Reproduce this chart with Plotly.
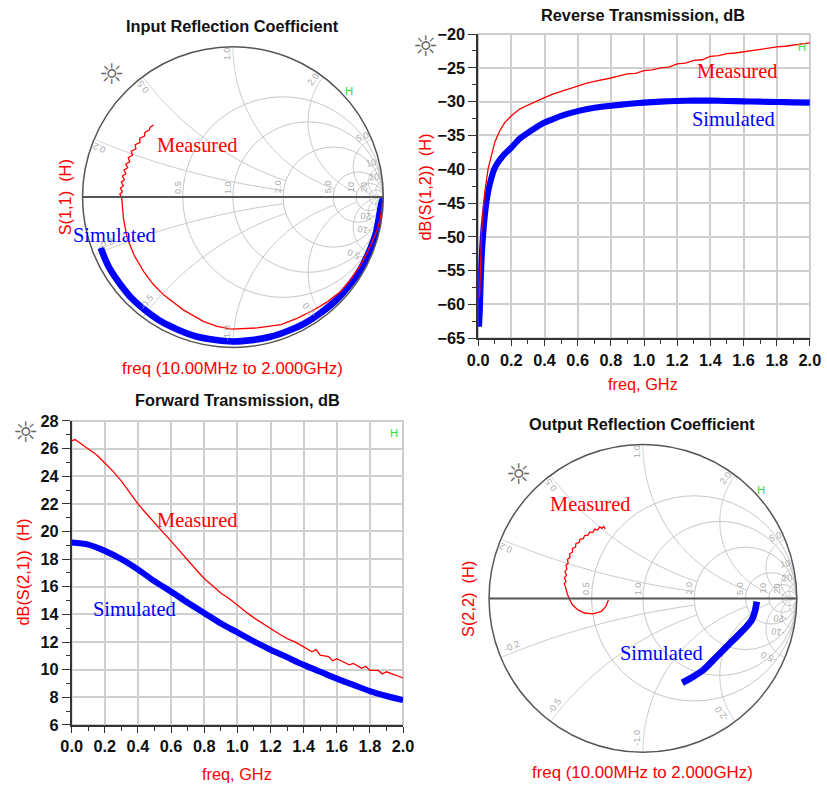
import numpy as np
import plotly.graph_objects as go

# Figure size; the page shows it inside the browser's default 8 px body margin and the
# captured page is 843x804, so layout positions below are given in final-image pixels
# and mapped onto the figure with the scale/offset below.
W, H = 827, 788
OFF = 8
SX = (W + 2 * OFF) / W
SY = (H + 2 * OFF) / H
K = (SX + SY) / 2

# ---------------- data ----------------
# Reverse transmission dB(S(1,2)) vs frequency (GHz)
rev_meas_f = [0.008, 0.012, 0.016, 0.02, 0.03, 0.04, 0.06, 0.08, 0.10, 0.13, 0.16, 0.20, 0.25, 0.30,
              0.35, 0.40, 0.45, 0.50, 0.55, 0.60, 0.65, 0.70, 0.75, 0.80, 0.85, 0.90, 0.95, 1.00,
              1.05, 1.10, 1.15, 1.20, 1.25, 1.30, 1.35, 1.40, 1.45, 1.50, 1.55, 1.60, 1.65, 1.70,
              1.75, 1.80, 1.85, 1.90, 1.95, 2.00]
rev_meas_db = [-59.0, -55.0, -51.5, -49.5, -45.8, -43.3, -39.9, -37.7, -36.0, -34.3, -33.1, -32.1, -31.1, -30.5,
               -29.9, -29.4, -28.9, -28.5, -28.0, -27.7, -27.3, -27.0, -26.8, -26.5, -26.2, -25.9, -25.8, -25.4,
               -25.3, -25.0, -24.9, -24.4, -24.3, -23.9, -23.8, -23.3, -23.2, -22.9, -22.8, -22.6, -22.5, -22.3,
               -22.1, -21.9, -21.8, -21.6, -21.5, -21.3]
rev_sim_f = [0.005, 0.01, 0.015, 0.02, 0.03, 0.04, 0.05, 0.07, 0.10, 0.15, 0.20, 0.25, 0.30, 0.35, 0.40,
             0.45, 0.50, 0.60, 0.70, 0.80, 0.90, 1.00, 1.10, 1.20, 1.30, 1.40, 1.50, 1.60, 1.70,
             1.80, 1.90, 2.00]
rev_sim_db = [-63.3, -60.5, -56.5, -53.5, -49.5, -46.8, -44.8, -42.2, -39.8, -38.0, -36.8, -35.5, -34.6, -33.8, -33.1,
              -32.6, -32.1, -31.4, -30.9, -30.6, -30.35, -30.15, -30.0, -29.9, -29.85, -29.85, -29.9, -29.95, -30.0,
              -30.05, -30.1, -30.15]

# Forward transmission dB(S(2,1)) vs frequency (GHz)
fwd_meas_f = [0.00, 0.02, 0.05, 0.10, 0.15, 0.20, 0.25, 0.30, 0.35, 0.40, 0.45, 0.50, 0.55, 0.60, 0.65,
              0.70, 0.75, 0.80, 0.85, 0.90, 0.95, 1.00, 1.05, 1.10, 1.15, 1.20, 1.25, 1.30, 1.35,
              1.40, 1.45, 1.475, 1.50, 1.55, 1.575, 1.60, 1.65, 1.675, 1.70, 1.75, 1.775, 1.80,
              1.85, 1.875, 1.90, 1.95, 2.00]
fwd_meas_db = [26.55, 26.65, 26.4, 26.0, 25.55, 24.95, 24.35, 23.65, 22.85, 22.0, 21.3, 20.6, 19.95, 19.3, 18.6,
               17.9, 17.25, 16.6, 16.1, 15.55, 15.15, 14.65, 14.2, 13.75, 13.35, 12.95, 12.6, 12.25, 12.0,
               11.65, 11.3, 11.45, 11.05, 10.95, 10.65, 10.8, 10.5, 10.35, 10.45, 10.1, 10.25, 9.95,
               9.95, 9.7, 9.85, 9.65, 9.4]
fwd_sim_f = [0.0, 0.1, 0.2, 0.3, 0.4, 0.5, 0.6, 0.7, 0.8, 0.9, 1.0, 1.1, 1.2, 1.3, 1.4, 1.5, 1.6,
             1.7, 1.8, 1.9, 2.0]
fwd_sim_db = [19.2, 19.05, 18.6, 18.0, 17.25, 16.4, 15.65, 14.85, 14.1, 13.35, 12.7, 12.05, 11.45, 10.9,
              10.35, 9.85, 9.35, 8.9, 8.45, 8.1, 7.8]

# Input reflection S(1,1), reflection coefficient (real, imag), 10 MHz -> 2 GHz
s11_meas_re = [0.993, 0.991, 0.986, 0.980, 0.962, 0.936, 0.895, 0.848, 0.785, 0.716, 0.630, 0.540, 0.430,
               0.320, 0.160, -0.010, -0.105, -0.197, -0.330, -0.461, -0.530, -0.593, -0.655, -0.703,
               -0.728, -0.740, -0.752, -0.735, -0.748, -0.728, -0.742, -0.722, -0.735, -0.712, -0.724,
               -0.700, -0.712, -0.686, -0.696, -0.668, -0.676, -0.645, -0.650, -0.618, -0.620, -0.588,
               -0.585, -0.557, -0.550, -0.527]
s11_meas_im = [-0.040, -0.067, -0.105, -0.144, -0.210, -0.276, -0.365, -0.452, -0.545, -0.628, -0.695, -0.749,
               -0.805, -0.848, -0.870, -0.878, -0.860, -0.826, -0.750, -0.650, -0.580, -0.496, -0.390,
               -0.274, -0.140, 0.000, 0.020, 0.035, 0.060, 0.075, 0.100, 0.115, 0.140, 0.155, 0.180,
               0.195, 0.220, 0.235, 0.262, 0.278, 0.305, 0.320, 0.348, 0.362, 0.390, 0.405, 0.430,
               0.445, 0.465, 0.479]
s11_sim_re = [0.999, 0.989, 0.947, 0.844, 0.686, 0.483, 0.249, 0.000, -0.248, -0.478, -0.673, -0.820, -0.879]
s11_sim_im = [-0.010, -0.035, -0.254, -0.488, -0.686, -0.836, -0.929, -0.960, -0.925, -0.827, -0.673,
              -0.474, -0.338]

# Output reflection S(2,2), reflection coefficient (real, imag)
s22_meas_re = [-0.224, -0.240, -0.270, -0.325, -0.380, -0.422, -0.455, -0.475, -0.492, -0.503, -0.512,
               -0.500, -0.510, -0.497, -0.506, -0.494, -0.500, -0.486, -0.490, -0.474, -0.476, -0.458,
               -0.458, -0.438, -0.435, -0.415, -0.408, -0.388, -0.378, -0.358, -0.345, -0.327, -0.312,
               -0.295, -0.280, -0.265, -0.255, -0.245]
s22_meas_im = [-0.011, -0.050, -0.085, -0.101, -0.095, -0.075, -0.045, -0.011, 0.030, 0.075, 0.095,
               0.110, 0.135, 0.150, 0.175, 0.190, 0.215, 0.228, 0.252, 0.265, 0.290, 0.300,
               0.325, 0.333, 0.357, 0.362, 0.385, 0.388, 0.410, 0.410, 0.432, 0.428, 0.450,
               0.444, 0.465, 0.455, 0.468, 0.452]
s22_sim_re = [0.740, 0.728, 0.708, 0.672, 0.632, 0.580, 0.525, 0.460, 0.396, 0.325, 0.256]
s22_sim_im = [-0.021, -0.085, -0.140, -0.185, -0.226, -0.278, -0.333, -0.398, -0.462, -0.510, -0.548]

# Smith grid: constant-resistance circles and constant-reactance arcs
resistance_ticks = [0.5, 1.0, 2.0, 5.0, 10, 20]
reactance_ticks = [0.2, 0.5, 1.0, 2.0, 5.0, 10, 20]
# largest resistance each reactance arc is drawn to (None = all the way to the edge point)
reactance_arc_end = [2.0, 2.0, 5.0, 10, None, None, None]
freq_ticks = [0.0, 0.2, 0.4, 0.6, 0.8, 1.0, 1.2, 1.4, 1.6, 1.8, 2.0]

RED = "#ff0000"
BLUE = "#0000ff"
GRID = "#cfcfcf"
SMITH_GRID = "#c6c6c6"
SANS = "Liberation Sans, Arial, sans-serif"
SERIF = "Liberation Serif, Times New Roman, serif"


def gamma_to_z(re, im):
    g = np.asarray(re) + 1j * np.asarray(im)
    z = (1 + g) / (1 - g)
    return z.real, z.imag


def fx(x):
    return x * SX - OFF


def fy(y):
    return y * SY - OFF


def px(x):
    return fx(x) / W


def py(y):
    return 1 - fy(y) / H


def k(v):
    return round(v * K, 2)


SIM_LINE = dict(color=BLUE, shape="spline", smoothing=0.8)

fig = go.Figure()

# ---- Smith chart reactance arcs (clipped) ----
for sub in ("smith", "smith2"):
    for xv, rend in zip(reactance_ticks, reactance_arc_end):
        top = rend if rend is not None else 1e4
        rr = np.concatenate([[0.0], np.geomspace(1e-3, top, 300)])
        for sgn in (1, -1):
            fig.add_trace(go.Scattersmith(real=rr, imag=np.full_like(rr, sgn * xv), subplot=sub,
                                          mode="lines", line=dict(color=SMITH_GRID, width=1),
                                          hoverinfo="skip", showlegend=False))

# ---- Smith chart traces ----
for sub, (mre, mim), (sre, sim_) in [
    ("smith", (s11_meas_re, s11_meas_im), (s11_sim_re, s11_sim_im)),
    ("smith2", (s22_meas_re, s22_meas_im), (s22_sim_re, s22_sim_im)),
]:
    zr, zi = gamma_to_z(sre, sim_)
    fig.add_trace(go.Scattersmith(real=zr, imag=zi, subplot=sub, mode="lines",
                                  line=dict(SIM_LINE, width=k(6.5)), showlegend=False))
    zr, zi = gamma_to_z(mre, mim)
    fig.add_trace(go.Scattersmith(real=zr, imag=zi, subplot=sub, mode="lines",
                                  line=dict(color=RED, width=1.3), showlegend=False))

# ---- Cartesian traces ----
fig.add_trace(go.Scatter(x=rev_sim_f, y=rev_sim_db, xaxis="x", yaxis="y", mode="lines",
                         line=dict(SIM_LINE, width=k(6)), showlegend=False))
fig.add_trace(go.Scatter(x=rev_meas_f, y=rev_meas_db, xaxis="x", yaxis="y", mode="lines",
                         line=dict(color=RED, width=1.3), showlegend=False))
fig.add_trace(go.Scatter(x=fwd_sim_f, y=fwd_sim_db, xaxis="x2", yaxis="y2", mode="lines",
                         line=dict(SIM_LINE, width=k(6)), showlegend=False))
fig.add_trace(go.Scatter(x=fwd_meas_f, y=fwd_meas_db, xaxis="x2", yaxis="y2", mode="lines",
                         line=dict(color=RED, width=1.3), showlegend=False))

smith_common = dict(
    bgcolor="white",
    realaxis=dict(tickvals=resistance_ticks, showticklabels=False, ticks="",
                  gridcolor=SMITH_GRID, gridwidth=1, showline=True, linecolor="#555", linewidth=2),
    imaginaryaxis=dict(tickvals=reactance_ticks, showticklabels=False, ticks="", showgrid=False,
                       showline=True, linecolor="#555", linewidth=1.5),
)

# smith chart geometry (image pixels): centre x, centre y, radius
SMITH1 = (231.5, 196.5, 151.5)
SMITH2 = (644.7, 599.0, 155.0)


def smith_domain(c):
    cx, cy, r = c
    x0, y0, rf = fx(cx), fy(cy), r * K
    return dict(x=[(x0 - rf) / W, (x0 + rf) / W], y=[1 - (y0 + rf) / H, 1 - (y0 - rf) / H])


TICKFONT = dict(family=SANS, size=k(16), color="#111", weight="bold")
xaxis_common = dict(range=[0, 2], tickvals=freq_ticks, ticktext=[f"{v:.1f}" for v in freq_ticks],
                    showgrid=True, gridcolor=GRID, gridwidth=1.5, zeroline=False,
                    showline=True, linecolor="#333", linewidth=1.5,
                    ticks="outside", ticklen=6, tickwidth=1.2, tickcolor="#333",
                    minor=dict(dtick=0.1, tick0=0, ticks="outside", ticklen=4, tickcolor="#333",
                               showgrid=False),
                    tickfont=TICKFONT)
yaxis_common = dict(showgrid=True, gridcolor=GRID, gridwidth=1.5, zeroline=False,
                    showline=True, linecolor="#333", linewidth=1.5,
                    ticks="outside", ticklen=8, tickwidth=1.2, tickcolor="#333",
                    tickfont=TICKFONT)

fig.update_layout(
    width=W, height=H, margin=dict(l=0, r=0, t=0, b=0),
    paper_bgcolor="white", plot_bgcolor="white",
    smith=dict(domain=smith_domain(SMITH1), **smith_common),
    smith2=dict(domain=smith_domain(SMITH2), **smith_common),
    xaxis=dict(domain=[px(478.7), px(813)], anchor="y", **xaxis_common),
    yaxis=dict(domain=[py(338), py(33)], anchor="x", range=[-65, -20], dtick=5, tick0=-65,
               minor=dict(dtick=2.5, ticks="outside", ticklen=4, tickcolor="#333", showgrid=False),
               **yaxis_common),
    xaxis2=dict(domain=[px(69), px(403)], anchor="y2", **xaxis_common),
    yaxis2=dict(domain=[py(726), py(421)], anchor="x2", range=[6, 28], dtick=2, tick0=6,
                minor=dict(dtick=1, ticks="outside", ticklen=4, tickcolor="#333", showgrid=False),
                **yaxis_common),
)

# gray frame on the open sides of the rectangular plots
for xr, yr in [("x", "y"), ("x2", "y2")]:
    fig.add_shape(type="rect", xref=f"{xr} domain", yref=f"{yr} domain", x0=0, x1=1, y0=0, y1=1,
                  line=dict(color="#bdbdbd", width=1.5), layer="below")

ann = []


def text(x, y, s, size=16, color="black", family=SANS, angle=0, weight="normal"):
    ann.append(dict(x=px(x), y=py(y), xref="paper", yref="paper", text=s, showarrow=False,
                    xanchor="center", yanchor="middle", textangle=angle,
                    font=dict(size=k(size), color=color, family=family, weight=weight)))


# titles
text(231, 25, "Input Reflection Coefficient", size=16, color="#111", weight="bold")
text(645, 14, "Reverse Transmission, dB", size=16, color="#111", weight="bold")
text(236, 400, "Forward Transmission, dB", size=16, color="#111", weight="bold")
text(644, 424, "Output Reflection Coefficient", size=16, color="#111", weight="bold")

# axis captions
text(231, 368, "freq (10.00MHz to 2.000GHz)", size=16.5, color=RED)
text(644, 774, "freq (10.00MHz to 2.000GHz)", size=16.5, color=RED)
text(645, 384, "freq, GHz", color=RED)
text(236, 775, "freq, GHz", color=RED)
text(62, 197, "S(1,1)  (H)", color=RED, angle=-90)
text(469, 600, "S(2,2)  (H)", color=RED, angle=-90)
text(425, 186, "dB(S(1,2))  (H)", color=RED, angle=-90)
text(20, 573, "dB(S(2,1))  (H)", color=RED, angle=-90)

# curve labels
text(195, 144, "Measured", size=20, color=RED, family=SERIF)
text(112, 235, "Simulated", size=20, color=BLUE, family=SERIF)
text(740, 70, "Measured", size=20, color=RED, family=SERIF)
text(736, 118, "Simulated", size=20, color=BLUE, family=SERIF)
text(195, 520, "Measured", size=20, color=RED, family=SERIF)
text(132, 610, "Simulated", size=20, color=BLUE, family=SERIF)
text(591, 504, "Measured", size=20, color=RED, family=SERIF)
text(663, 654, "Simulated", size=20, color=BLUE, family=SERIF)

# marker glyphs
for x, y in [(110, 73), (426, 45), (23, 432), (520, 474)]:
    text(x, y, "\u263c", size=28, color="#666", family="DejaVu Sans")
for x, y in [(348, 90), (805, 46), (394, 433), (764, 490)]:
    text(x, y, "H", size=11, color="#33dd33")


def fmt(v):
    return f"{v:.1f}" if v < 10 else f"{v:g}"


# small grey grid labels inside the smith charts
for cx, cy, R in (SMITH1, SMITH2):
    for r in resistance_ticks:
        g = (r - 1) / (r + 1)
        text(cx + g * R - 5, cy - 10, fmt(r), size=9, color="#aaaaaa", angle=-90)
    for xv in reactance_ticks:
        th = np.pi - 2 * np.arctan(xv)
        a = th + np.radians(2.3)
        text(cx + (R - 8) * np.cos(a), cy - (R - 8) * np.sin(a), fmt(xv), size=9, color="#aaaaaa",
             angle=-np.degrees(th))
        a = -th - np.radians(2.5)
        text(cx + (R - 15) * np.cos(a), cy - (R - 15) * np.sin(a), "-" + fmt(xv), size=9,
             color="#aaaaaa", angle=-np.degrees(-th + np.pi))

fig.update_layout(annotations=ann)
fig.write_html("out.html")
